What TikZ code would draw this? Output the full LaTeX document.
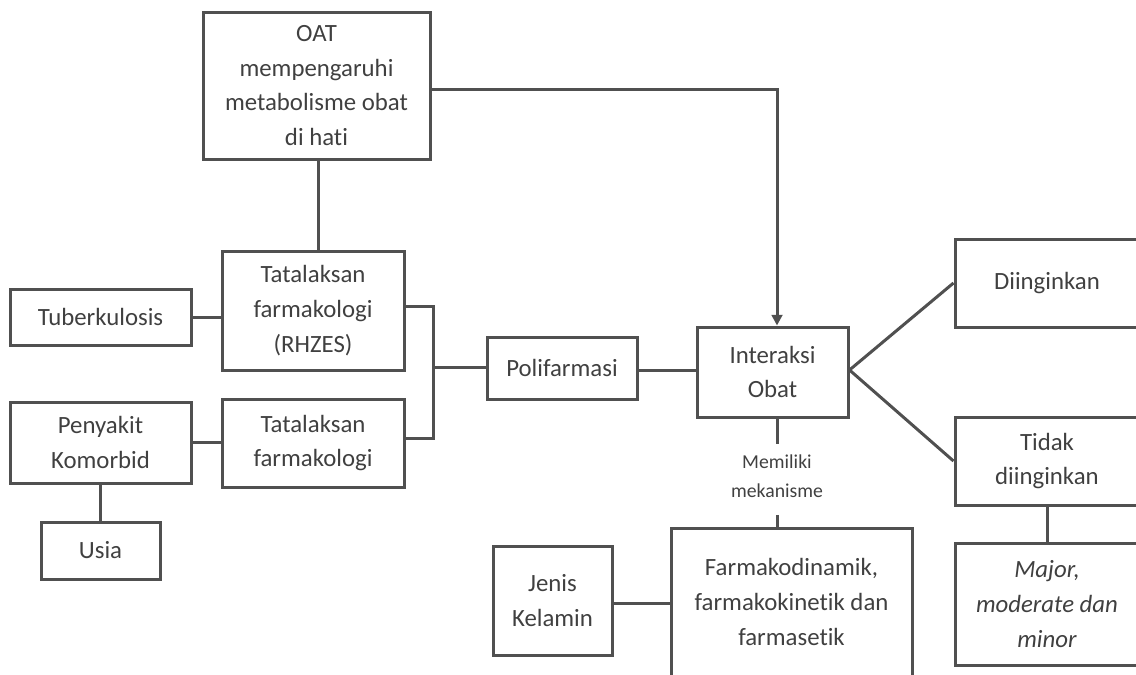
\documentclass[tikz,border=0pt]{standalone}
\usepackage{fontspec}
\setmainfont{Carlito}[Ligatures={NoCommon}]
\usepackage{tikz}
\usetikzlibrary{arrows.meta, positioning}
\usepackage{xcolor}
\definecolor{linegray}{HTML}{505050}
\definecolor{textgray}{HTML}{404040}
\tikzset{%
	every box/.style={
		rectangle,
		draw=linegray,
		line width=2.25pt,
		inner sep=0pt,
		align=center,
		text=textgray,
		font=\fontsize{18.6}{26}\selectfont
	},
	link/.style={
		draw=linegray,
		line width=2.25pt
	},
	note/.style={
		inner sep=0pt,
		align=center,
		text=textgray,
		font=\fontsize{14.8}{21.5}\selectfont
	},
}
\begin{document}
\begin{tikzpicture}[x=0.75pt, y=-0.75pt]
				\useasboundingbox (0,0) rectangle (1136,675);
				% Top
				\node[every box, minimum width=170.25pt, minimum height=110.25pt] (oat) at (316.5,85.5)
				{OAT\\mempengaruhi\\metabolisme obat\\di hati};
				% Left column
				\node[every box, minimum width=135.75pt, minimum height=42pt] (tbc) at (100.5,317) {Tuberkulosis};
				\node[every box, minimum width=135.75pt, minimum height=60.75pt] (komorbid) at (100.5,442.5) {Penyakit\\Komorbid};
				\node[every box, minimum width=89.25pt, minimum height=42.75pt] (usia) at (100.5,550.5) {Usia};
				% Treatment
				\node[every box, minimum width=136.5pt, minimum height=89.25pt] (rhzes) at (313,310.5)
				{Tatalaksan\\farmakologi\\(RHZES)};
				\node[every box, minimum width=136.5pt, minimum height=66pt] (tata) at (313,443)
				{Tatalaksan\\farmakologi};
				\node[every box, minimum width=112.5pt, minimum height=46.5pt] (poli) at (562,368) {Polifarmasi};
				% Interaction
				\node[every box, minimum width=113.25pt, minimum height=67.5pt] (interaksi) at (772.5,372) {Interaksi\\Obat};
				\node[note] (mekanisme) at (777,476) {Memiliki\\mekanisme};
				\node[every box, minimum width=180.75pt, minimum height=111pt] (farmako) at (791.5,602)
				{Farmakodinamik,\\farmakokinetik dan\\farmasetik};
				\node[every box, minimum width=89.25pt, minimum height=81.75pt] (jenis) at (552.5,600.5) {Jenis\\Kelamin};
				% Outcome
				\node[every box, minimum width=138pt, minimum height=66pt] (diing) at (1047,283) {Diinginkan};
				\node[every box, minimum width=138pt, minimum height=66pt] (tidak) at (1047,461) {Tidak\\diinginkan};
				\node[every box, minimum width=138pt, minimum height=91.5pt] (major) at (1047,604)
				{\itshape Major,\\\itshape moderate dan\\\itshape minor};
				% Connections
				\draw[link] (oat.south -| 318,0) -- (rhzes.north -| 318,0);
				\draw[link, -{Triangle[length=8pt, width=8pt]}] (oat.east |- 0,89) -| (interaksi.north -| 777,0);
				\draw[link] (tbc.east) -- (tbc.east -| rhzes.west);
				\draw[link] (komorbid.east) -- (komorbid.east -| tata.west);
				\draw[link] (komorbid.south) -- (usia.north);
				\coordinate (br) at (433,367);
				\draw[link] (rhzes.east |- 0,306) -| (br) |- (tata.east |- 0,438);
				\draw[link] (br) -- (br -| poli.west);
				\draw[link] (poli.east |- 0,370) -- (interaksi.west |- 0,370);
				\draw[link] (interaksi.south -| 777,0) -- ([yshift=8pt]mekanisme.north);
				\draw[link] ([yshift=-13pt]mekanisme.south) -- (farmako.north -| 777,0);
				\draw[link] (jenis.east |- 0,603) -- (farmako.west |- 0,603);
				\foreach \j in {diing,tidak}
				{
					\draw[link] (interaksi.east |- 0,370) -- (\j.west);
				}
				\draw[link] (tidak.south) -- (major.north);
			\end{tikzpicture}
\end{document}
